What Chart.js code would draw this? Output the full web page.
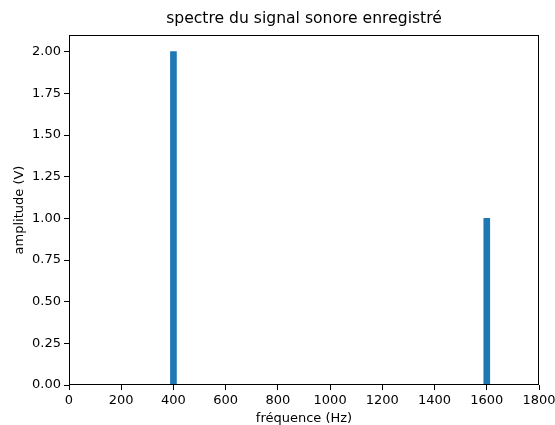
<!DOCTYPE html>
<html>
<head>
<meta charset="utf-8">
<script src="https://cdn.jsdelivr.net/npm/chart.js@4"></script>
<style>
html,body{margin:0;padding:0;background:#fff;}
#wrap{width:555px;height:425px;}
</style>
</head>
<body>
<div id="wrap"><canvas id="c" width="555" height="425"></canvas></div>
<script>
const frequencies = [400, 1600];
const amplitudes = [2.0, 1.0];
const xTicks = [0, 200, 400, 600, 800, 1000, 1200, 1400, 1600, 1800];
const yTicks = [0, 0.25, 0.5, 0.75, 1.0, 1.25, 1.5, 1.75, 2.0];
const titleText = 'spectre du signal sonore enregistré';
const xLabel = 'fréquence (Hz)';
const yLabel = 'amplitude (V)';

const FONT = 'DejaVu Sans';

const frame = {
  id: 'frame',
  afterDraw(chart) {
    const {ctx, chartArea: a} = chart;
    ctx.save();
    ctx.strokeStyle = '#000';
    ctx.lineWidth = 1;
    const l = Math.round(a.left) + 0.5, t = Math.round(a.top) + 0.5;
    const r = Math.round(a.right) - 0.5, b = Math.round(a.bottom) - 0.5;
    ctx.strokeRect(l, t, r - l, b - t);
    ctx.restore();
  }
};

new Chart(document.getElementById('c'), {
  type: 'bar',
  data: {
    datasets: [{
      data: frequencies.map((f, i) => ({x: f, y: amplitudes[i]})),
      backgroundColor: '#1f77b4',
      borderWidth: 0,
      barThickness: 6
    }]
  },
  options: {
    responsive: false,
    animation: false,
    layout: {padding: {left: 0, right: 16, top: 0, bottom: 0}},
    plugins: {
      legend: {display: false},
      tooltip: {enabled: false},
      title: {
        display: true,
        text: titleText,
        fullSize: false,
        color: '#000',
        font: {family: FONT, size: 15.6, weight: 'normal', lineHeight: 1.2},
        padding: {top: 9.6, bottom: 6.7}
      }
    },
    scales: {
      x: {
        type: 'linear',
        min: 0, max: 1800,
        offset: false,
        afterBuildTicks: s => { s.ticks = xTicks.map(v => ({value: v})); },
        afterFit: s => { s.height = 40; s.paddingLeft = 0; s.paddingRight = 0; },
        ticks: {
          color: '#000',
          font: {family: FONT, size: 13},
          padding: 3,
          maxRotation: 0,
          autoSkip: false,
          callback: v => String(v)
        },
        grid: {display: true, offset: false, drawOnChartArea: false, drawTicks: true, tickLength: 5, tickColor: '#000'},
        border: {display: false},
        title: {
          display: true, text: xLabel, color: '#000',
          font: {family: FONT, size: 13, lineHeight: 1},
          padding: {top: 0, bottom: 0}
        }
      },
      y: {
        type: 'linear',
        min: 0, max: 2.1,
        afterBuildTicks: s => { s.ticks = yTicks.map(v => ({value: v})); },
        afterFit: s => { s.width = 69; s.paddingTop = 0; s.paddingBottom = 0; },
        ticks: {
          color: '#000',
          font: {family: FONT, size: 13},
          padding: 3,
          autoSkip: false,
          callback: v => Number(v).toFixed(2)
        },
        grid: {display: true, offset: false, drawOnChartArea: false, drawTicks: true, tickLength: 5, tickColor: '#000'},
        border: {display: false},
        title: {
          display: true, text: yLabel, color: '#000',
          font: {family: FONT, size: 13, lineHeight: 1},
          padding: {top: 13, bottom: 0}
        }
      }
    }
  },
  plugins: [frame]
});
</script>
</body>
</html>
